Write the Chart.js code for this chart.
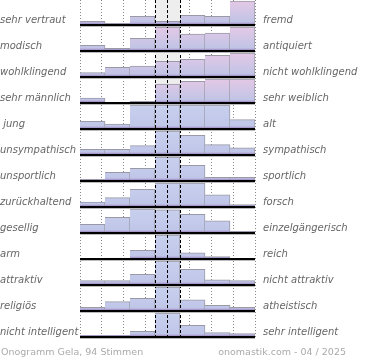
<!DOCTYPE html>
<html>
<head>
<meta charset="utf-8">
<script src="https://cdn.jsdelivr.net/npm/chart.js@4"></script>
<style>
html, body { margin: 0; padding: 0; background: #fff; }
#wrap { position: relative; width: 370px; height: 360px; }
.foot { position: absolute; top: 346px; font: 9.5px "DejaVu Sans"; color: #aaa; white-space: nowrap; }
</style>
</head>
<body>
<div id="wrap">
  <canvas id="onogramm" width="370" height="360"></canvas>
  <div class="foot" style="left:1px">Onogramm Gela, 94 Stimmen</div>
  <div class="foot" style="right:24px">onomastik.com - 04 / 2025</div>
</div>
<script>
const leftLabels = ['sehr vertraut', 'modisch', 'wohlklingend', 'sehr männlich', ' jung', 'unsympathisch',
  'unsportlich', 'zurückhaltend', 'gesellig', 'arm', 'attraktiv', 'religiös', 'nicht intelligent'];
const rightLabels = ['fremd', 'antiquiert', 'nicht wohlklingend', 'sehr weiblich', 'alt', 'sympathisch',
  'sportlich', 'forsch', 'einzelgängerisch', 'reich', 'nicht attraktiv', 'atheistisch', 'sehr intelligent'];
const steps = ['1', '2', '3', '4', '5', '6', '7'];

// bar height per step, in % of the tallest bar of that row
const shares = [
  [15, 7, 36, 15, 40, 36, 100],
  [24, 11, 53, 100, 70, 75, 100],
  [18, 40, 46, 65, 74, 90, 100],
  [20, 0, 7, 79, 90, 100, 100],
  [32, 20, 100, 100, 100, 100, 39],
  [24, 24, 39, 100, 82, 43, 30],
  [7, 36, 53, 100, 65, 15, 15],
  [20, 39, 74, 100, 100, 51, 10],
  [36, 65, 100, 97, 78, 51, 7],
  [0, 4, 36, 100, 26, 10, 0],
  [18, 18, 44, 100, 65, 22, 18],
  [15, 39, 53, 100, 47, 24, 15],
  [7, 7, 24, 100, 49, 18, 14]
];

const ROWS = leftLabels.length;
const BAR_MAX = 24 / 26;      // a full bar leaves a little room under the next row line
const TOP = 337 / 26;
const PINK_ROWS = 4;          // the first rows are tinted pink at the top

function rowFill(c, base, pink) {
  const chart = c.chart;
  if (!chart.chartArea) return pink ? '#d4c6e6' : '#c4cbea';
  const y = chart.scales.y;
  const g = chart.ctx.createLinearGradient(0, y.getPixelForValue(base + BAR_MAX), 0, y.getPixelForValue(base));
  if (pink) {
    g.addColorStop(0, '#e4c8e6');
    g.addColorStop(0.5, '#d0c6e6');
    g.addColorStop(0.88, '#c0c4e6');
  } else {
    g.addColorStop(0, '#c8d0ee');
    g.addColorStop(0.88, '#c0c6e8');
  }
  g.addColorStop(0.93, '#a99bcc');
  g.addColorStop(1, '#9a88c0');
  return g;
}

const datasets = shares.map(function (row, i) {
  const base = ROWS - 1 - i;
  return {
    label: leftLabels[i],
    data: row.map(v => v > 0 ? [base, base + v / 100 * BAR_MAX] : null),
    backgroundColor: c => rowFill(c, base, i < PINK_ROWS),
    borderColor: '#9a9aa6',
    borderWidth: { top: 1, right: 1, left: 0, bottom: 0 },
    borderSkipped: false,
    order: 1
  };
});

// grey backdrop of the neutral middle step
datasets.push({
  label: 'mitte',
  data: steps.map((s, i) => i === 3 ? [0, TOP] : null),
  backgroundColor: '#eeeeee',
  borderWidth: 0,
  order: 10
});

function fixedTicks(values) {
  return function (scale) { scale.ticks = values.map(v => ({ value: v })); };
}
function noPad(w, h) {
  return function (s) {
    if (w !== null) s.width = w;
    if (h !== null) s.height = h;
    s.paddingTop = 0; s.paddingBottom = 0; s.paddingLeft = 0; s.paddingRight = 0;
  };
}
const rowValues = leftLabels.map((l, i) => ROWS - 1 - i);
const labelFont = { family: 'DejaVu Sans', size: 10, style: 'italic' };

new Chart(document.getElementById('onogramm'), {
  type: 'bar',
  data: { labels: steps, datasets: datasets },
  options: {
    responsive: false,
    animation: false,
    devicePixelRatio: 1,
    layout: { padding: { left: 0, right: 0, top: 0, bottom: 23 } },
    datasets: { bar: { grouped: false, barPercentage: 1, categoryPercentage: 1, xAxisID: 'x', yAxisID: 'y' } },
    plugins: { legend: { display: false }, tooltip: { enabled: false }, title: { display: false } },
    scales: {
      x: { type: 'category', display: false, offset: true },
      xg: {
        type: 'linear', position: 'bottom', min: -0.5, max: 6.5,
        afterBuildTicks: fixedTicks([-0.5, 0.5, 1.5, 2.5, 3.5, 4.5, 5.5, 6.5]),
        afterFit: noPad(null, 0),
        ticks: { display: false },
        grid: { color: '#888', lineWidth: 1, drawTicks: false },
        border: { display: false, dash: [1, 2] }
      },
      xm: {
        type: 'linear', position: 'bottom', min: -0.5, max: 6.5,
        afterBuildTicks: fixedTicks([2.5, 3.5]),
        afterFit: noPad(null, 0),
        ticks: { display: false },
        grid: { color: '#000', lineWidth: 1, drawTicks: false, z: 1 },
        border: { display: false, dash: [3, 2] }
      },
      y: {
        type: 'linear', position: 'left', min: 0, max: TOP,
        afterBuildTicks: fixedTicks(rowValues),
        afterFit: noPad(80, null),
        ticks: {
          callback: v => leftLabels[ROWS - 1 - v],
          crossAlign: 'far', labelOffset: -5, autoSkip: false,
          font: labelFont, color: '#666'
        },
        grid: { color: '#000', lineWidth: 2, drawTicks: false, z: 1 },
        border: { display: false }
      },
      // soft shadow just under each row line
      ys: {
        type: 'linear', position: 'left', min: 0, max: TOP,
        afterBuildTicks: fixedTicks(rowValues.map(v => v - 1.5 / 26)),
        afterFit: noPad(0, null),
        ticks: { display: false },
        grid: { color: '#bbb', lineWidth: 1, drawTicks: false, z: 1 },
        border: { display: false }
      },
      y2: {
        type: 'linear', position: 'right', min: 0, max: TOP,
        afterBuildTicks: fixedTicks(rowValues),
        afterFit: noPad(115, null),
        ticks: {
          callback: v => rightLabels[ROWS - 1 - v],
          crossAlign: 'near', padding: 8, labelOffset: -5, autoSkip: false,
          font: labelFont, color: '#666'
        },
        grid: { display: false, drawTicks: false },
        border: { display: false }
      }
    }
  }
});
</script>
</body>
</html>
